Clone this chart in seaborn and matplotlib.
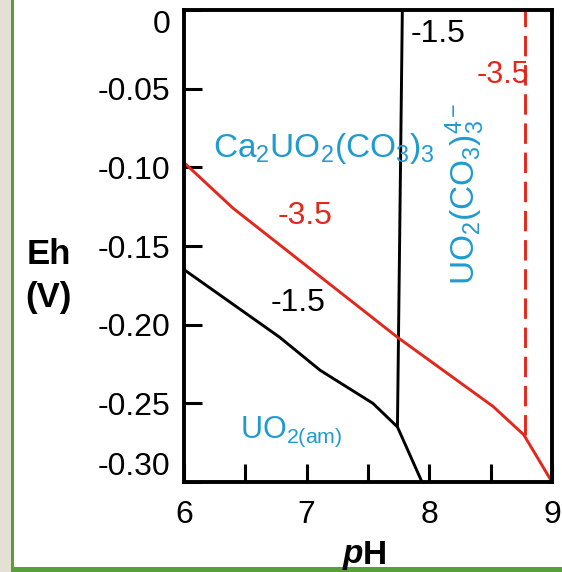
import matplotlib
matplotlib.use("Agg")
import matplotlib.pyplot as plt
import matplotlib.patches as mpatches
import seaborn as sns
import pandas as pd

# ---- data ----
black_ph = [6.0, 6.78, 7.11, 7.54, 7.74, 7.94]
black_eh = [-0.165, -0.208, -0.229, -0.250, -0.265, -0.300]
black_vert_ph = [7.74, 7.78]
black_vert_eh = [-0.265, 0.0]
red_ph = [6.0, 6.4, 7.74, 8.52, 8.77, 9.0]
red_eh = [-0.097, -0.126, -0.208, -0.252, -0.270, -0.300]
red_vert_ph = [8.78, 8.78]
red_vert_eh = [-0.270, 0.0]

xtick_major = [6, 7, 8, 9]
xtick_minor = [6.5, 7.5, 8.5]
yticks = [0, -0.05, -0.10, -0.15, -0.20, -0.25, -0.30]
ytick_labels = ["0", "-0.05", "-0.10", "-0.15", "-0.20", "-0.25", "-0.30"]

BLUE = "#1f9bcf"
RED = "#e2281c"

sns.set_style("ticks")
plt.rcParams["font.family"] = ["Liberation Sans", "DejaVu Sans"]
plt.rcParams["text.color"] = "black"
plt.rcParams["mathtext.fontset"] = "custom"
plt.rcParams["mathtext.rm"] = "Liberation Sans"
plt.rcParams["mathtext.it"] = "Liberation Sans:italic"
plt.rcParams["mathtext.bf"] = "Liberation Sans:bold"

fig = plt.figure(figsize=(5.62, 5.72), dpi=100)
fig.patch.set_facecolor("white")
# frame decoration
fig.patches.append(mpatches.Rectangle((0, 0), 11/562, 1, transform=fig.transFigure,
                                      facecolor="#e4e0d3", edgecolor="none", zorder=0))
fig.patches.append(mpatches.Rectangle((11/562, 0), 3/562, 1, transform=fig.transFigure,
                                      facecolor="#56a03a", edgecolor="none", zorder=0))
fig.patches.append(mpatches.Rectangle((11/562, 0), 1, 5/572, transform=fig.transFigure,
                                      facecolor="#56a03a", edgecolor="none", zorder=0))

ax = fig.add_axes([184/562, 1 - 482/572, (552-184)/562, (482-10)/572])

lw = 2.1
sns.lineplot(data=pd.DataFrame({"pH": black_ph, "Eh": black_eh}), x="pH", y="Eh",
             ax=ax, color="black", lw=lw, sort=False, estimator=None)
sns.lineplot(data=pd.DataFrame({"pH": black_vert_ph, "Eh": black_vert_eh}), x="pH", y="Eh",
             ax=ax, color="black", lw=lw, sort=False, estimator=None)
sns.lineplot(data=pd.DataFrame({"pH": red_ph, "Eh": red_eh}), x="pH", y="Eh",
             ax=ax, color=RED, lw=lw, sort=False, estimator=None)
sns.lineplot(data=pd.DataFrame({"pH": red_vert_ph, "Eh": red_vert_eh}), x="pH", y="Eh",
             ax=ax, color=RED, lw=lw, sort=False, estimator=None)
ax.lines[-1].set_linestyle((0, (7, 3)))

ax.set_xlim(6, 9)
ax.set_ylim(-0.30, 0)
ax.set_xlabel("")
ax.set_ylabel("")

for s in ax.spines.values():
    s.set_linewidth(2.8)
    s.set_color("black")

ax.set_xticks(xtick_major)
ax.set_xticklabels([str(v) for v in xtick_major])
ax.set_xticks(xtick_minor, minor=True)
ax.set_yticks(yticks)
ax.set_yticklabels(ytick_labels)
ax.tick_params(axis="both", which="both", direction="in", width=2.2, length=13,
               labelsize=23, colors="black")
ax.tick_params(axis="y", pad=10)
ax.tick_params(axis="x", pad=13)
lbls = ax.get_yticklabels()
lbls[0].set_va("top")
lbls[-1].set_va("bottom")

# annotations
ax.text(7.85, -0.015, "-1.5", color="black", fontsize=23, va="center", ha="left")
ax.text(8.60, -0.041, "-3.5", color=RED, fontsize=22, va="center", ha="center")
ax.text(6.24, -0.088, r"Ca$_2$UO$_2$(CO$_3$)$_3$", color=BLUE, fontsize=24,
        va="center", ha="left")
ax.text(6.99, -0.131, "-3.5", color=RED, fontsize=23, va="center", ha="center")
ax.text(6.93, -0.186, "-1.5", color="black", fontsize=23, va="center", ha="center")
ax.text(6.46, -0.268, r"UO$_{2(\mathrm{am})}$", color=BLUE, fontsize=22,
        va="center", ha="left")
ax.text(8.29, -0.117, r"UO$_2$(CO$_3$)$_3^{4-}$", color=BLUE, fontsize=24,
        va="center", ha="center", rotation=90)

fig.text(49/562, 1 - 254/572, "Eh", fontsize=25, fontweight="bold", color="black",
         ha="center", va="center")
fig.text(48/562, 1 - 298/572, "(V)", fontsize=25, fontweight="bold", color="black",
         ha="center", va="center")
fig.text(363/562, 1 - 555/572, "p", fontsize=24, fontweight="bold", fontstyle="italic",
         color="black", ha="right", va="center")
fig.text(363/562, 1 - 555/572, "H", fontsize=24, fontweight="bold", color="black",
         ha="left", va="center")

fig.savefig("out.png", dpi=100)
